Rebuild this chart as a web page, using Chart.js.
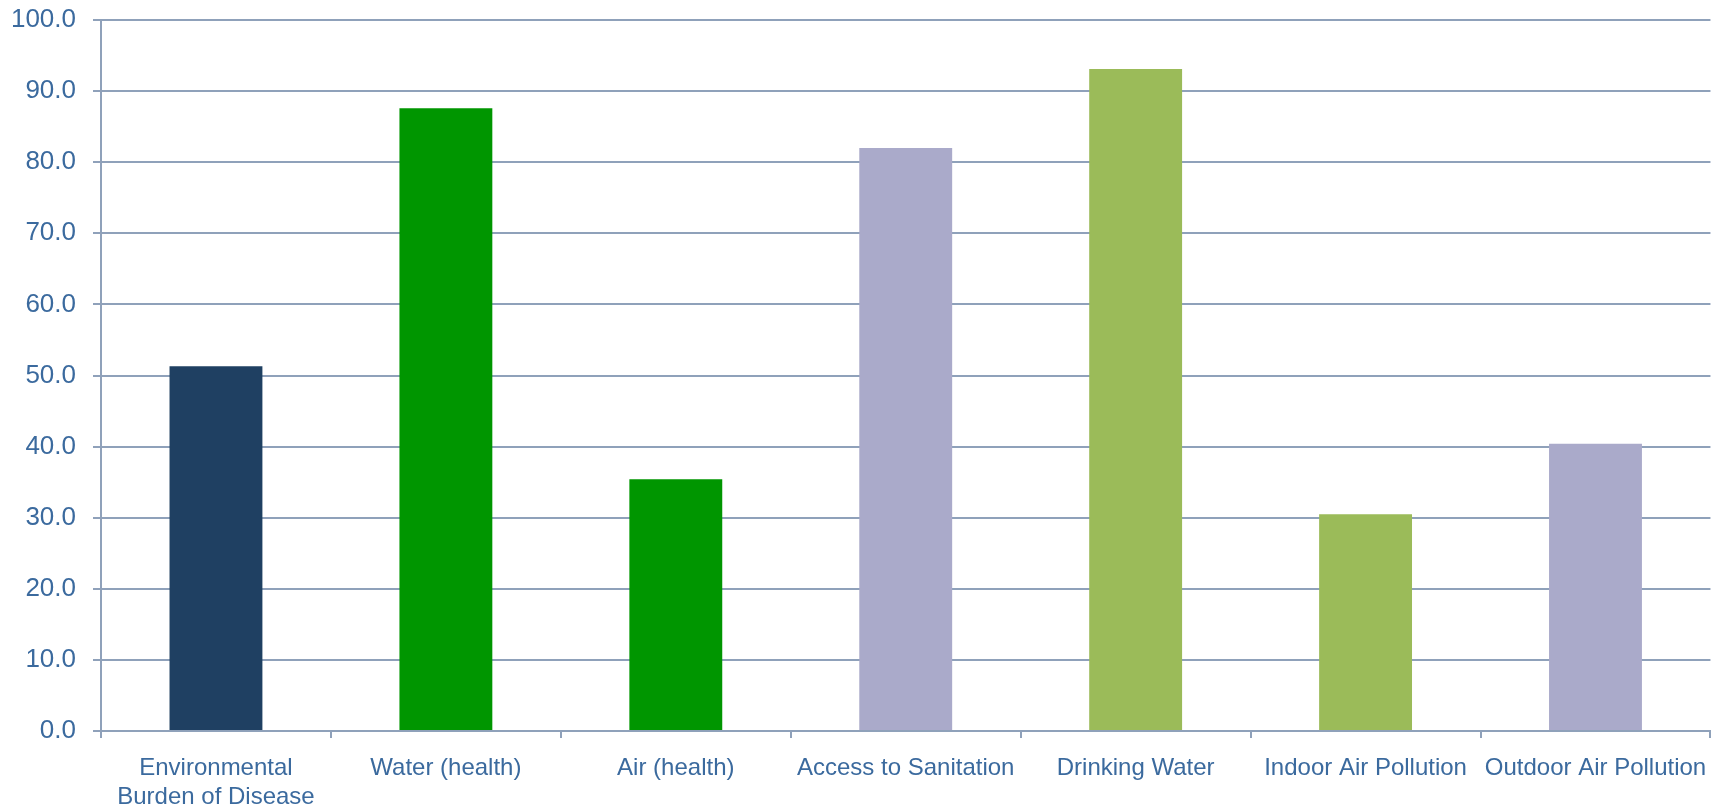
<!DOCTYPE html>
<html>
<head>
<meta charset="utf-8">
<script src="https://cdn.jsdelivr.net/npm/chart.js@4"></script>
<style>
    html, body { margin: 0; padding: 0; background: #fff; }
    #wrap { width: 1723px; height: 809px; }
</style>
</head>
<body>
<div id="wrap"><canvas id="chart" width="1723" height="809"></canvas></div>
<script>
// data
const categories = [
    ['Environmental', 'Burden of Disease'],
    'Water (health)',
    'Air (health)',
    'Access to Sanitation',
    'Drinking Water',
    'Indoor Air Pollution',
    'Outdoor Air Pollution'
];
const scores = [51.3, 87.6, 35.4, 82.0, 93.1, 30.5, 40.4];
const barColors = ['#1F4062', '#009600', '#009600', '#AAAACA', '#9BBB59', '#9BBB59', '#AAAACA'];
const yTicks = [0, 10, 20, 30, 40, 50, 60, 70, 80, 90, 100];

const textColor = '#3B6A9E';
const lineColor = '#8FA1BA';

document.addEventListener('DOMContentLoaded', () => {
    const ctx = document.getElementById('chart').getContext('2d');
    new Chart(ctx, {
        type: 'bar',
        data: {
            labels: categories,
            datasets: [{
                data: scores,
                backgroundColor: barColors,
                borderWidth: 0,
                categoryPercentage: 1,
                barPercentage: 0.404
            }]
        },
        options: {
            responsive: false,
            animation: false,
            layout: { padding: { top: 20, right: 11, bottom: 0, left: 0 } },
            plugins: {
                legend: { display: false },
                tooltip: { enabled: false }
            },
            scales: {
                x: {
                    offset: true,
                    grid: {
                        offset: true,
                        drawOnChartArea: false,
                        drawTicks: true,
                        tickLength: 7,
                        color: lineColor,
                        lineWidth: 2
                    },
                    border: { color: lineColor, width: 2 },
                    ticks: {
                        color: textColor,
                        font: { family: 'Liberation Sans, Arial, sans-serif', size: 24 },
                        padding: 16,
                        maxRotation: 0,
                        autoSkip: false
                    },
                    afterFit: (scale) => { scale.height = 78; }
                },
                y: {
                    min: 0,
                    max: 100,
                    afterBuildTicks: (scale) => {
                        scale.ticks = yTicks.map(v => ({ value: v }));
                    },
                    grid: {
                        color: lineColor,
                        lineWidth: 2,
                        tickLength: 8
                    },
                    border: { color: lineColor, width: 2 },
                    ticks: {
                        color: textColor,
                        font: { family: 'Liberation Sans, Arial, sans-serif', size: 26 },
                        padding: 17,
                        callback: (v) => Number(v).toFixed(1)
                    },
                    afterFit: (scale) => {
                        scale.width = 101;
                        // let the layout padding decide where the plot starts
                        scale.paddingTop = 0;
                        scale.paddingBottom = 0;
                    }
                }
            }
        }
    });
});
</script>
</body>
</html>
